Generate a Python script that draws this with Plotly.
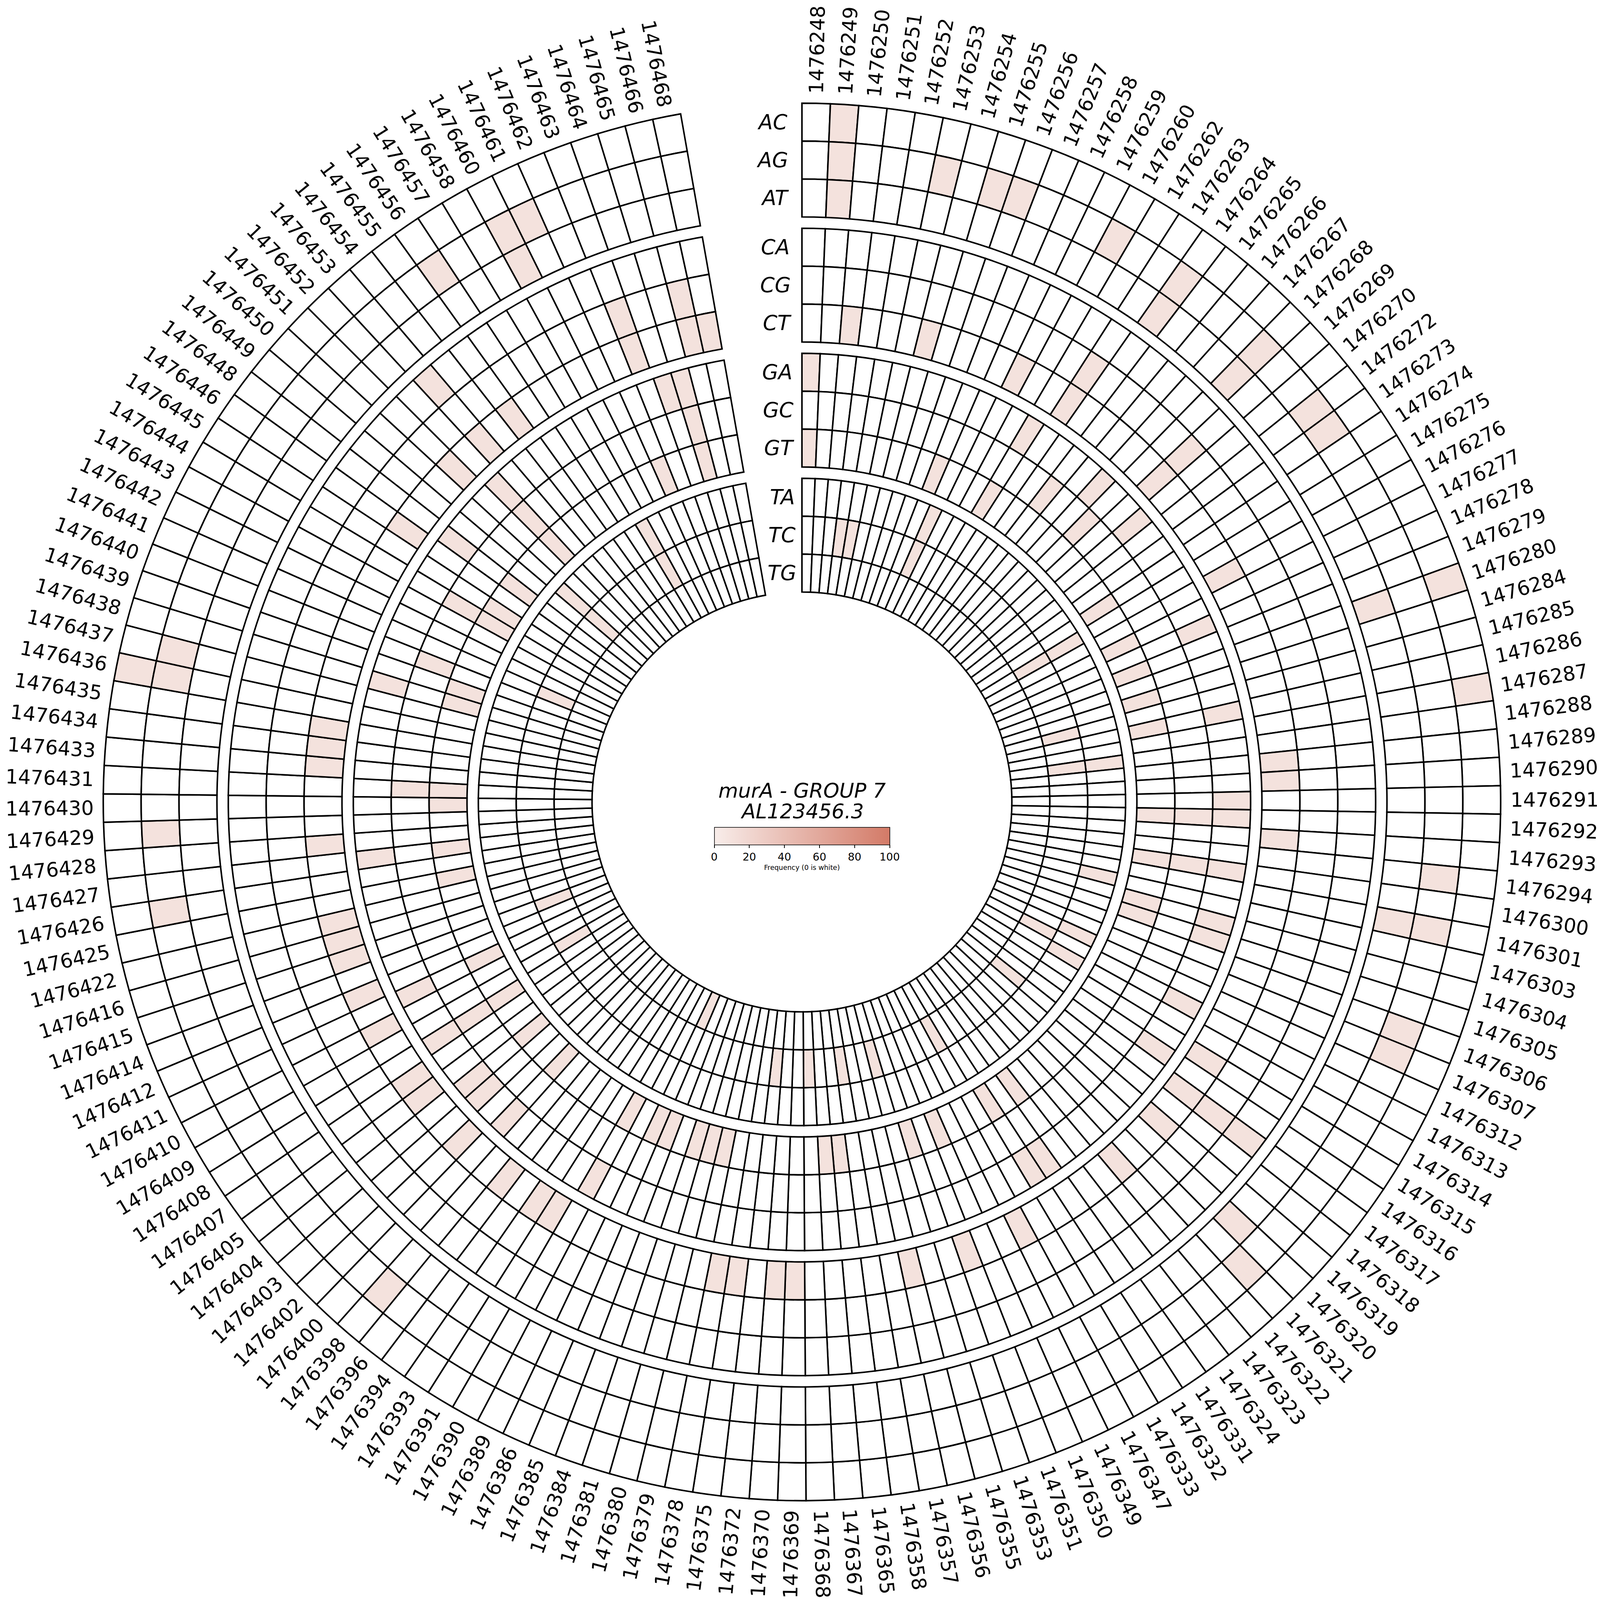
import math
import plotly.graph_objects as go

# ---------------- data ----------------
positions = [
    1476248, 1476249, 1476250, 1476251, 1476252, 1476253, 1476254, 1476255, 1476256, 1476257,
    1476258, 1476259, 1476260, 1476262, 1476263, 1476264, 1476265, 1476266, 1476267, 1476268,
    1476269, 1476270, 1476272, 1476273, 1476274, 1476275, 1476276, 1476277, 1476278, 1476279,
    1476280, 1476284, 1476285, 1476286, 1476287, 1476288, 1476289, 1476290, 1476291, 1476292,
    1476293, 1476294, 1476300, 1476301, 1476303, 1476304, 1476305, 1476306, 1476307, 1476312,
    1476313, 1476314, 1476315, 1476316, 1476317, 1476318, 1476319, 1476320, 1476321, 1476322,
    1476323, 1476324, 1476331, 1476332, 1476333, 1476347, 1476349, 1476350, 1476351, 1476353,
    1476355, 1476356, 1476357, 1476358, 1476365, 1476367, 1476368, 1476369, 1476370, 1476372,
    1476375, 1476378, 1476379, 1476380, 1476381, 1476384, 1476385, 1476386, 1476389, 1476390,
    1476391, 1476393, 1476394, 1476396, 1476398, 1476400, 1476402, 1476403, 1476404, 1476405,
    1476407, 1476408, 1476409, 1476410, 1476411, 1476412, 1476414, 1476415, 1476416, 1476422,
    1476425, 1476426, 1476427, 1476428, 1476429, 1476430, 1476431, 1476433, 1476434, 1476435,
    1476436, 1476437, 1476438, 1476439, 1476440, 1476441, 1476442, 1476443, 1476444, 1476445,
    1476446, 1476448, 1476449, 1476450, 1476451, 1476452, 1476453, 1476454, 1476455, 1476456,
    1476457, 1476458, 1476460, 1476461, 1476462, 1476463, 1476464, 1476465, 1476466, 1476468,
]

substitutions = ["AC", "AG", "AT", "CA", "CG", "CT", "GA", "GC", "GT", "TA", "TC", "TG"]

# frequency (%) of each substitution at positions where it is non-zero
freq_AC = {1476249: 10, 1476280: 10, 1476287: 10, 1476436: 10}
freq_AG = {1476249: 10, 1476253: 10, 1476255: 10, 1476256: 10, 1476260: 10, 1476264: 10,
           1476268: 10, 1476272: 10, 1476273: 10, 1476294: 10, 1476301: 10, 1476306: 10,
           1476307: 10, 1476321: 10, 1476398: 10, 1476426: 10, 1476429: 10, 1476436: 10,
           1476437: 10, 1476456: 10, 1476460: 10, 1476461: 10}
freq_AT = {1476249: 10, 1476264: 10, 1476268: 10, 1476280: 10, 1476301: 10, 1476320: 10,
           1476460: 10}
freq_CA = {1476317: 10, 1476453: 10}
freq_CG = {1476263: 10, 1476269: 10, 1476317: 10, 1476463: 10, 1476466: 10}
freq_CT = {1476250: 10, 1476254: 10, 1476259: 10, 1476263: 10, 1476269: 10, 1476276: 10,
           1476289: 10, 1476290: 10, 1476293: 10, 1476315: 10, 1476317: 10, 1476319: 10,
           1476322: 10, 1476347: 10, 1476351: 10, 1476356: 10, 1476369: 10, 1476370: 10,
           1476375: 10, 1476378: 10, 1476391: 10, 1476393: 10, 1476396: 10, 1476402: 10,
           1476405: 10, 1476407: 10, 1476410: 10, 1476412: 10, 1476415: 10, 1476416: 10,
           1476422: 10, 1476428: 10, 1476433: 10, 1476434: 10, 1476435: 10, 1476446: 10,
           1476451: 10, 1476453: 10, 1476455: 10, 1476463: 10, 1476466: 10, 1476468: 10}
freq_GA = {1476248: 10, 1476262: 10, 1476267: 10, 1476270: 10, 1476278: 10, 1476286: 10,
           1476291: 10, 1476292: 10, 1476300: 10, 1476304: 10, 1476305: 10, 1476313: 10,
           1476316: 10, 1476331: 10, 1476332: 10, 1476390: 10, 1476400: 10, 1476403: 10,
           1476404: 10, 1476408: 10, 1476411: 10, 1476427: 10, 1476438: 10, 1476448: 10,
           1476452: 10, 1476464: 10, 1476465: 10}
freq_GC = {1476265: 10, 1476268: 10, 1476292: 10, 1476300: 10, 1476408: 10, 1476431: 10,
           1476440: 10, 1476444: 10, 1476452: 10, 1476465: 10}
freq_GT = {1476248: 10, 1476257: 10, 1476262: 10, 1476274: 10, 1476277: 10, 1476279: 10,
           1476284: 10, 1476286: 10, 1476292: 10, 1476300: 10, 1476304: 10, 1476305: 10,
           1476324: 10, 1476332: 10, 1476350: 10, 1476353: 10, 1476365: 10, 1476367: 10,
           1476379: 10, 1476380: 10, 1476381: 10, 1476385: 10, 1476386: 10, 1476390: 10,
           1476400: 10, 1476404: 10, 1476408: 10, 1476411: 10, 1476425: 10, 1476427: 10,
           1476430: 10, 1476431: 10, 1476438: 10, 1476439: 10, 1476444: 10, 1476445: 10,
           1476448: 10, 1476452: 10, 1476462: 10, 1476465: 10}
freq_TA = {1476258: 10, 1476275: 10, 1476288: 10, 1476303: 10, 1476312: 10, 1476314: 10,
           1476450: 10, 1476458: 10}
freq_TC = {1476251: 10, 1476252: 10, 1476258: 10, 1476275: 10, 1476285: 10, 1476288: 10,
           1476313: 10, 1476318: 10, 1476333: 10, 1476355: 10, 1476358: 10, 1476368: 10,
           1476372: 10, 1476409: 10, 1476414: 10, 1476441: 10, 1476450: 10, 1476458: 10}
freq_TG = {1476386: 10}

colorbar_ticks = [0, 20, 40, 60, 80, 100]
title_line1 = "murA - GROUP 7"
title_line2 = "AL123456.3"
colorbar_title = "Frequency (0 is white)"

# ---------------- layout constants ----------------
# geometry is expressed in reference-image pixels (REF x REF); the page itself is
# laid out in CSS pixels (W x W), so pixel-based styles are scaled by K.
REF = 6766.0
W = 4090
K = W / REF
C = REF / 2.0
R0 = 889.0        # inner radius of innermost ring
H = 160.5         # thickness of one sub-ring
GAP = 48.0        # gap between groups
SPAN = 350.0      # degrees used by data
LABEL_FS = 84     # position-label font size (reference px)
LABEL_R = 3000.0 + 4.452 * LABEL_FS / 2  # radius of label centres
FONT = "DejaVu Sans"

freqs = {"AC": freq_AC, "AG": freq_AG, "AT": freq_AT, "CA": freq_CA, "CG": freq_CG,
         "CT": freq_CT, "GA": freq_GA, "GC": freq_GC, "GT": freq_GT, "TA": freq_TA,
         "TC": freq_TC, "TG": freq_TG}

N = len(positions)
step = SPAN / N


def ring_base(si):
    g = si // 3                 # 0 = outer group (A) ... 3 = inner (T)
    k = si % 3                  # 0 = outermost sub-ring within group
    return R0 + (3 - g) * (3 * H + GAP) + (2 - k) * H


thetas, bases, sizes, vals = [], [], [], []
for si, sub in enumerate(substitutions):
    b = ring_base(si)
    for i, p in enumerate(positions):
        thetas.append((i + 0.5) * step)
        bases.append(b)
        sizes.append(H)
        vals.append(freqs[sub].get(p, 0))

colorscale = [[0.0, "#ffffff"], [0.0001, "#f8edea"], [1.0, "#d37a67"]]

fig = go.Figure()
fig.add_trace(go.Barpolar(
    r=sizes, base=bases, theta=thetas, width=[step] * len(thetas),
    marker=dict(
        color=vals, colorscale=colorscale, cmin=0, cmax=100,
        line=dict(color="black", width=6.5 * K),
        colorbar=dict(
            orientation="h", x=0.5, xanchor="center",
            y=1 - 3491 / REF, yanchor="top", xpad=0, ypad=0,
            len=742 * K, lenmode="pixels", thickness=75 * K, thicknessmode="pixels",
            outlinewidth=2.5 * K, outlinecolor="black",
            tickvals=colorbar_ticks, ticktext=[str(t) for t in colorbar_ticks],
            ticks="outside", ticklen=12 * K, tickwidth=2.5 * K, tickcolor="black",
            tickfont=dict(family=FONT, size=45 * K, color="black"),
            title=dict(text=colorbar_title, side="bottom",
                       font=dict(family=FONT, size=29 * K, color="black")),
        ),
    ),
    hoverinfo="skip",
    showlegend=False,
))

annotations = []
# position labels around the circle
for i, p in enumerate(positions):
    th = (i + 0.5) * step
    rad = math.radians(th)
    x = (C + LABEL_R * math.sin(rad)) / REF
    y = (C + LABEL_R * math.cos(rad)) / REF
    ang = th - 90 if th <= 180 else th - 270
    annotations.append(dict(
        x=x, y=y, xref="paper", yref="paper", text=str(p), showarrow=False,
        textangle=ang, xanchor="center", yanchor="middle",
        font=dict(family=FONT, size=LABEL_FS * K, color="black"),
    ))

# substitution labels in the gap
lab_ang = math.radians(-step / 2)
for si, sub in enumerate(substitutions):
    rm = ring_base(si) + H / 2
    x = (C + rm * math.sin(lab_ang)) / REF
    y = (C + rm * math.cos(lab_ang)) / REF
    annotations.append(dict(
        x=x, y=y, xref="paper", yref="paper", text=sub, showarrow=False,
        xanchor="right", yanchor="middle",
        font=dict(family=FONT, size=88 * K, color="black", style="italic"),
    ))

# centre title
annotations.append(dict(x=0.5, y=1 - 3335 / REF, xref="paper", yref="paper", text=title_line1,
                        showarrow=False, xanchor="center", yanchor="middle",
                        font=dict(family=FONT, size=86 * K, color="black", style="italic")))
annotations.append(dict(x=0.5, y=1 - 3422 / REF, xref="paper", yref="paper", text=title_line2,
                        showarrow=False, xanchor="center", yanchor="middle",
                        font=dict(family=FONT, size=86 * K, color="black", style="italic")))

fig.update_layout(
    width=W, height=W,
    margin=dict(l=0, r=0, t=0, b=0, pad=0),
    paper_bgcolor="white", plot_bgcolor="white",
    showlegend=False,
    polar=dict(
        domain=dict(x=[0, 1], y=[0, 1]),
        bgcolor="white",
        barmode="overlay",
        hole=0,
        radialaxis=dict(range=[0, C], visible=False, showgrid=False, showline=False,
                        showticklabels=False, ticks=""),
        angularaxis=dict(rotation=90, direction="clockwise", visible=False, showgrid=False,
                         showline=False, showticklabels=False, ticks=""),
    ),
    annotations=annotations,
)

fig.write_html("out.html")
